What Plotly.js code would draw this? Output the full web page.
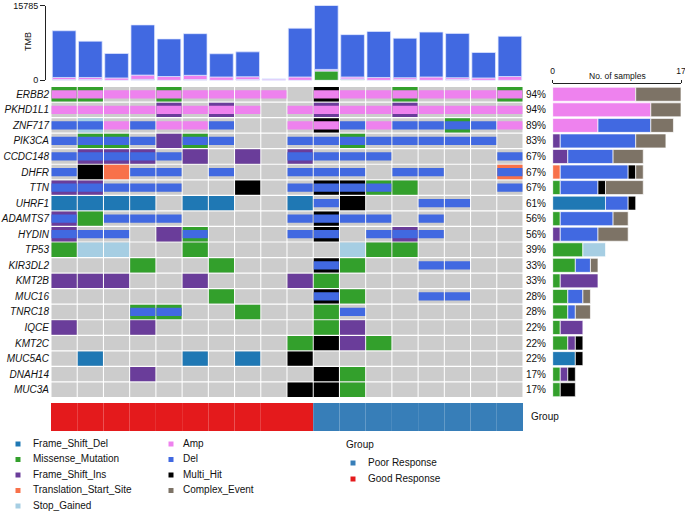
<!DOCTYPE html>
<html><head><meta charset="utf-8">
<script src="https://cdn.plot.ly/plotly-3.0.1.min.js"></script>
<style>html,body{margin:0;padding:0;background:#fff}#chart{width:685px;height:511px}</style>
</head><body><div id="chart"></div>
<script>
// ---------------- DATA ----------------
const genes = ["ERBB2","PKHD1L1","ZNF717","PIK3CA","CCDC148","DHFR","TTN","UHRF1","ADAMTS7","HYDIN",
               "TP53","KIR3DL2","KMT2B","MUC16","TNRC18","IQCE","KMT2C","MUC5AC","DNAH14","MUC3A"];
// codes per sample: F=Frame_Shift_Del M=Missense_Mutation I=Frame_Shift_Ins T=Translation_Start_Site
// S=Stop_Gained H=Multi_Hit A=Amp D=Del  .=none ; two letters = mutation + CNV
const rowERBB2   = "MA MA A  A  MA A  A  A  A  .  HA A  A  MA A  A  A  MA";
const rowPKHD1L1 = "A  A  A  A  IA A  IA A  .  A  IA A  A  IA A  A  A  A";
const rowZNF717  = "D  SD A  D  A  A  D  .  .  A  HA D  A  D  D  MD D  A";
const rowPIK3CA  = "D  MD MD D  I  MD D  .  .  D  D  MD D  D  D  D  D  .";
const rowCCDC148 = "D  ID ID ID D  I  .  I  .  ID D  D  D  .  .  .  .  D";
const rowDHFR    = "D  H  T  D  D  .  D  .  .  D  D  D  .  D  D  .  .  TD";
const rowTTN     = "ID ID D  D  D  .  .  H  .  D  HD HD MD M  .  .  .  D";
const rowUHRF1   = "F  F  F  F  .  F  F  .  .  F  D  H  .  .  D  D  .  .";
const rowADAMTS7 = "ID M  D  D  D  .  .  .  .  D  HD D  D  .  D  .  .  .";
const rowHYDIN   = "ID D  D  .  I  MD .  .  .  D  HD .  D  ID D  .  .  .";
const rowTP53    = "M  S  S  .  .  M  .  .  .  .  .  S  M  M  .  .  .  .";
const rowKIR3DL2 = ".  .  .  M  .  .  M  .  .  .  HD M  .  .  D  D  .  .";
const rowKMT2B   = "I  I  I  .  .  I  .  .  .  I  M  .  .  .  .  .  .  .";
const rowMUC16   = ".  .  .  .  .  .  M  .  .  .  HD M  .  .  D  D  .  .";
const rowTNRC18  = ".  .  .  MD MD .  .  M  .  .  M  D  .  .  .  .  .  .";
const rowIQCE    = "I  .  .  I  .  .  .  .  .  .  M  I  .  .  .  .  .  .";
const rowKMT2C   = ".  .  .  .  .  .  .  .  .  M  H  I  M  .  .  .  .  .";
const rowMUC5AC  = ".  F  .  .  .  F  .  F  .  H  .  .  .  .  .  .  .  .";
const rowDNAH14  = ".  .  .  I  .  .  .  .  .  .  H  M  .  .  .  .  .  .";
const rowMUC3A   = ".  .  .  .  .  .  .  .  .  H  H  M  .  .  .  .  .  .";
const geneRows = [rowERBB2,rowPKHD1L1,rowZNF717,rowPIK3CA,rowCCDC148,rowDHFR,rowTTN,rowUHRF1,rowADAMTS7,rowHYDIN,
                  rowTP53,rowKIR3DL2,rowKMT2B,rowMUC16,rowTNRC18,rowIQCE,rowKMT2C,rowMUC5AC,rowDNAH14,rowMUC3A];

const groups = ["Good Response","Good Response","Good Response","Good Response","Good Response",
                "Good Response","Good Response","Good Response","Good Response","Good Response",
                "Poor Response","Poor Response","Poor Response","Poor Response",
                "Poor Response","Poor Response","Poor Response","Poor Response"];

// TMB stacked components per sample
const tmbMissense = [0,0,0,0,0,0,0,0,0,0,2000,150,0,0,0,0,0,0];
const tmbFSIns    = [150,150,0,200,0,150,0,150,0,0,0,150,0,150,0,150,0,0];
const tmbAmp      = [450,450,500,900,800,900,700,600,270,700,300,400,600,400,700,400,500,800];
const tmbDel      = [9855,7660,5160,10585,7930,8790,4900,5250,0,10290,13485,8935,9710,8325,9470,9350,5365,8490];
const tmbMax = 15785;
const samplesMax = 17;

// ---------------- STYLE ----------------
const W = 685, H = 511;
const fx = p => p / W, fy = p => 1 - p / H;
const FONT = "Liberation Sans, Arial, Helvetica, sans-serif";
const GREY = "#CCCCCC";
const types = {
  F:{name:"Frame_Shift_Del", color:"#1F78B4"},
  M:{name:"Missense_Mutation", color:"#33A02C"},
  I:{name:"Frame_Shift_Ins", color:"#6A3D9A"},
  T:{name:"Translation_Start_Site", color:"#F8714A"},
  S:{name:"Stop_Gained", color:"#A6CEE3"},
  A:{name:"Amp", color:"#EE82EE"},
  D:{name:"Del", color:"#4169E1"},
  H:{name:"Multi_Hit", color:"#000000"},
  C:{name:"Complex_Event", color:"#7D7366"}
};
const groupColors = {"Good Response":"#E41A1C", "Poor Response":"#377EB8"};

const cells = geneRows.map(r => r.trim().split(/\s+/));
const nS = cells[0].length;
const sampleIdx = cells[0].map((_, i) => i);

const traces = [];
const FULL = 0.92, HALF = 0.53, CW = 0.96;

// background grey cells
{
  const x = [], base = [], y = [];
  cells.forEach((row, g) => row.forEach((c, s) => { x.push(s); base.push(g - FULL/2); y.push(FULL); }));
  traces.push({type:"bar", x, y, base, width:CW, xaxis:"x2", yaxis:"y2", marker:{color:GREY, line:{width:0}}, hoverinfo:"skip", showlegend:false});
}
// full-height mutations
["F","M","I","T","S","H"].forEach(t => {
  const x = [], base = [], y = [];
  cells.forEach((row, g) => row.forEach((c, s) => { if (c.includes(t)) { x.push(s); base.push(g - FULL/2); y.push(FULL); } }));
  if (x.length) traces.push({type:"bar", x, y, base, width:CW, xaxis:"x2", yaxis:"y2", marker:{color:types[t].color, line:{width:0}}, hoverinfo:"skip", showlegend:false});
});
// CNV half-height
["A","D"].forEach(t => {
  const x = [], base = [], y = [];
  cells.forEach((row, g) => row.forEach((c, s) => { if (c.includes(t)) { x.push(s); base.push(g - HALF/2); y.push(HALF); } }));
  traces.push({type:"bar", x, y, base, width:CW, xaxis:"x2", yaxis:"y2", marker:{color:types[t].color, line:{width:0}}, hoverinfo:"skip", showlegend:false});
});

// TMB stacked bars
{
  const comps = [[tmbMissense, types.M.color],[tmbFSIns, types.I.color],[tmbAmp, types.A.color],[tmbDel, types.D.color]];
  const cum = sampleIdx.map(() => 0);
  comps.forEach(([vals, col]) => {
    traces.push({type:"bar", x:sampleIdx, y:vals.slice(), base:cum.slice(), width:0.9, xaxis:"x", yaxis:"y",
      marker:{color:col, line:{color:"rgba(225,232,255,0.9)", width:0.8}}, hoverinfo:"skip", showlegend:false});
    vals.forEach((v, i) => cum[i] += v);
  });
}

// Right side stacked horizontal bars
{
  const order = ["F","M","I","T","S","A","D","H","C"];
  const counts = {}; order.forEach(t => counts[t] = genes.map(() => 0));
  cells.forEach((row, g) => row.forEach(c => {
    if (c === ".") return;
    const k = c.length > 1 ? "C" : c;
    counts[k][g] += 1;
  }));
  const cum = genes.map(() => 0);
  order.forEach(t => {
    const yy = [], xx = [], bb = [];
    genes.forEach((_, g) => { if (counts[t][g] > 0) { yy.push(g); xx.push(counts[t][g]); bb.push(cum[g]); cum[g] += counts[t][g]; } });
    if (yy.length) traces.push({type:"bar", orientation:"h", y:yy, x:xx, base:bb, width:0.9, xaxis:"x4", yaxis:"y4",
      marker:{color:types[t].color, line:{color:"rgba(255,255,255,0.85)", width:0.8}}, hoverinfo:"skip", showlegend:false});
  });
}

// Group annotation bar
Object.keys(groupColors).forEach(gname => {
  const xx = [];
  groups.forEach((g, i) => { if (g === gname) xx.push(i); });
  traces.push({type:"bar", x:xx, y:xx.map(() => 1), base:xx.map(() => 0), width:1, xaxis:"x3", yaxis:"y3",
    marker:{color:groupColors[gname], line:{width:0}}, hoverinfo:"skip", showlegend:false});
});

// Custom legend (on a pixel-scaled hidden axis)
const legendCols = [
  {sx:18, tx:33, items:["F","M","I","T","S"]},
  {sx:171, tx:183, items:["A","D","H","C"]}
];
const legTop = 444, legGap = 15.5;
legendCols.forEach(col => {
  col.items.forEach((t, i) => {
    traces.push({type:"scatter", mode:"markers", x:[col.sx], y:[legTop + i*legGap], xaxis:"x5", yaxis:"y5",
      marker:{symbol:"square", size:5, color:types[t].color}, hoverinfo:"skip", showlegend:false, cliponaxis:false});
    traces.push({type:"scatter", mode:"text", x:[col.tx], y:[legTop + i*legGap], text:[types[t].name], textposition:"middle right",
      xaxis:"x5", yaxis:"y5", textfont:{family:FONT, size:10, color:"#111"}, hoverinfo:"skip", showlegend:false, cliponaxis:false});
  });
});
const groupLegend = ["Poor Response","Good Response"];
groupLegend.forEach((g, i) => {
  traces.push({type:"scatter", mode:"markers", x:[353], y:[463 + i*16], xaxis:"x5", yaxis:"y5",
    marker:{symbol:"square", size:5, color:groupColors[g]}, hoverinfo:"skip", showlegend:false, cliponaxis:false});
  traces.push({type:"scatter", mode:"text", x:[368], y:[463 + i*16], text:[g], textposition:"middle right",
    xaxis:"x5", yaxis:"y5", textfont:{family:FONT, size:10, color:"#111"}, hoverinfo:"skip", showlegend:false, cliponaxis:false});
});

// percentages
const pct = cells.map(row => Math.round(100 * row.filter(c => c !== ".").length / nS) + "%");

const annotations = [];
pct.forEach((p, g) => annotations.push({xref:"paper", yref:"y2", x:fx(524), y:g, xanchor:"left", yanchor:"middle",
  text:p, showarrow:false, font:{family:FONT, size:10, color:"#111"}}));
annotations.push({xref:"paper", yref:"paper", x:fx(28), y:fy(42), text:"TMB", textangle:-90, showarrow:false,
  xanchor:"center", yanchor:"middle", font:{family:FONT, size:9, color:"#111"}});
annotations.push({xref:"paper", yref:"paper", x:fx(617), y:fy(76), text:"No. of samples", showarrow:false,
  xanchor:"center", yanchor:"middle", font:{family:FONT, size:8.5, color:"#111"}});
annotations.push({xref:"paper", yref:"paper", x:fx(529), y:fy(416), text:"Group", showarrow:false,
  xanchor:"left", yanchor:"middle", font:{family:FONT, size:10, color:"#111"}});
annotations.push({xref:"paper", yref:"paper", x:fx(344), y:fy(444), text:"Group", showarrow:false,
  xanchor:"left", yanchor:"middle", font:{family:FONT, size:10, color:"#111"}});

const gridDomX = [fx(51), fx(523)];
const gridDomY = [fy(397.5), fy(86.5)];
const hidden = {visible:false, showgrid:false, zeroline:false, fixedrange:true};

const layout = {
  width:W, height:H, margin:{l:0, r:0, t:0, b:0},
  paper_bgcolor:"#fff", plot_bgcolor:"rgba(0,0,0,0)",
  barmode:"overlay", showlegend:false, font:{family:FONT, color:"#111"},
  xaxis: Object.assign({}, hidden, {domain:gridDomX, range:[-0.5, nS-0.5], anchor:"y"}),
  yaxis: {domain:[fy(80.3), fy(5.5)], range:[0, tmbMax], anchor:"free", position:fx(45),
          showline:true, linecolor:"#222", linewidth:1.4, ticks:"outside", ticklen:5, tickcolor:"#222", tickwidth:1.4,
          tickvals:[0, tmbMax], ticktext:["0", String(tmbMax)], tickfont:{family:FONT, size:9, color:"#111"},
          ticklabeloverflow:"allow", showgrid:false, zeroline:false, fixedrange:true},
  xaxis2: Object.assign({}, hidden, {domain:gridDomX, range:[-0.5, nS-0.5], anchor:"y2"}),
  yaxis2: {domain:gridDomY, range:[genes.length-0.5, -0.5], anchor:"x2", tickvals:genes.map((_, i) => i),
           ticktext:genes.map(g => "<i>" + g + "</i>"), ticks:"", showline:false, showgrid:false, zeroline:false,
           tickfont:{family:FONT, size:10, color:"#111"}, ticklabelstandoff:1, fixedrange:true},
  xaxis3: Object.assign({}, hidden, {domain:gridDomX, range:[-0.5, nS-0.5], anchor:"y3"}),
  yaxis3: Object.assign({}, hidden, {domain:[fy(431), fy(403)], range:[0, 1], anchor:"x3"}),
  xaxis4: {domain:[fx(552.7), fx(681)], range:[0, samplesMax], side:"top", anchor:"free", position:fy(82.5),
           showline:true, linecolor:"#222", linewidth:1, ticks:"outside", ticklen:3, tickcolor:"#222", tickwidth:1,
           tickvals:[0, samplesMax], ticktext:["0", String(samplesMax)], tickfont:{family:FONT, size:8.5, color:"#111"},
           ticklabeloverflow:"allow", ticklabelstandoff:2, showgrid:false, zeroline:false, fixedrange:true},
  yaxis4: Object.assign({}, hidden, {domain:gridDomY, range:[genes.length-0.5, -0.5], anchor:"x4"}),
  xaxis5: Object.assign({}, hidden, {domain:[0, 1], range:[0, W], anchor:"y5"}),
  yaxis5: Object.assign({}, hidden, {domain:[0, fy(436)], range:[H, 436], anchor:"x5"}),
  annotations
};

Plotly.newPlot("chart", traces, layout, {staticPlot:true, displayModeBar:false});
</script></body></html>
